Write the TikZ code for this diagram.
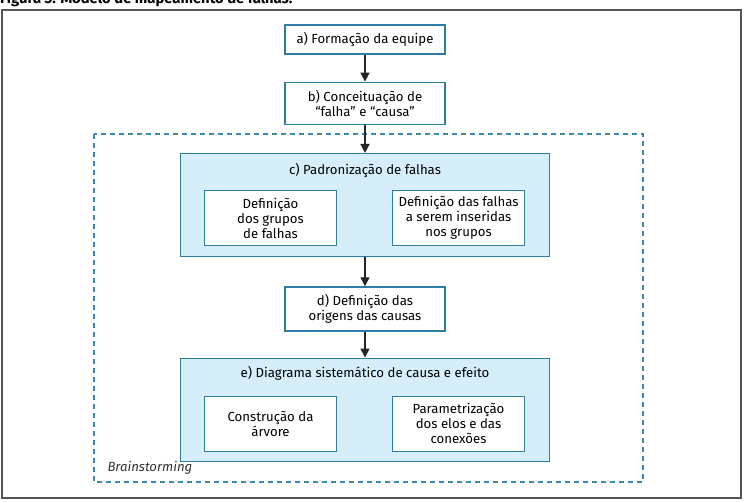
\documentclass[tikz,border=0pt]{standalone}
\usepackage{fontspec}
\setmainfont{Fira Sans}
\usetikzlibrary{positioning, arrows.meta}

\definecolor{boxline}{HTML}{2D7EA2}
\definecolor{boxfill}{HTML}{D5EEFA}
\definecolor{dashline}{HTML}{3A88AA}
\definecolor{framegray}{HTML}{555555}

\begin{document}
\begin{tikzpicture}[
    x=1pt, y=-1pt,
    >={Triangle[length=9pt, width=9pt]},
    font=\fontsize{13.2}{15}\selectfont,
    stepbox/.style={draw=boxline, line width=1.3pt, fill=white, minimum width=160pt, align=center, inner sep=1pt},
    groupbox/.style={draw=boxline, line width=1.3pt, fill=boxfill, minimum width=369pt, minimum height=103pt},
    subbox/.style={draw=boxline, line width=1.3pt, fill=white, minimum width=132pt, minimum height=55pt, align=center, inner sep=1pt},
    flow/.style={->, black!85, line width=1.4pt}
]

    \useasboundingbox (0,0) rectangle (744,503);

    % Caption (cut by the page edge)
    \node[anchor=base west, font=\bfseries\fontsize{14.8}{16}\selectfont, inner sep=0pt] (caption) at (0,4) {Figura 3. Modelo de mapeamento de falhas.};

    % Frame and brainstorming area
    \draw[framegray, line width=2pt] (2,10) rectangle (741,498);
    \draw[dashline, line width=1.2pt, dash pattern=on 5pt off 4pt] (94,134) rectangle (643,482);
    \node[anchor=west, font=\itshape\fontsize{13.2}{15}\selectfont, text=black!80] (brain) at (104,468) {Brainstorming};

    % Steps
    \node[stepbox, minimum height=29pt] (a) at (365,39.5) {a) Formação da equipe};
    \node[stepbox, minimum height=42pt, below=27pt of a] (b) {b) Conceituação de\\``falha'' e ``causa''};
    \node[groupbox, below=28pt of b] (c) {};
    \node[below=18pt of c.north, anchor=center] (ctitle) {c) Padronização de falhas};
    \node[subbox, below right=37pt and 24pt of c.north west] (c1) {Definição\\dos grupos\\de falhas};
    \node[subbox, below left=37pt and 25pt of c.north east] (c2) {Definição das falhas\\a serem inseridas\\nos grupos};
    \node[stepbox, minimum height=44pt, below=29pt of c] (d) {d) Definição das\\origens das causas};
    \node[groupbox, below=26pt of d] (e) {};
    \node[below=16pt of e.north, anchor=center] (etitle) {e) Diagrama sistemático de causa e efeito};
    \node[subbox, below right=38pt and 24pt of e.north west] (e1) {Construção da\\árvore};
    \node[subbox, below left=38pt and 25pt of e.north east] (e2) {Parametrização\\dos elos e das\\conexões};

    % Arrows
    \draw[flow] (a) -- (b);
    \draw[flow] (b) -- (c);
    \draw[flow] (c) -- (d);
    \draw[flow] (d) -- (e);

\end{tikzpicture}
\end{document}
